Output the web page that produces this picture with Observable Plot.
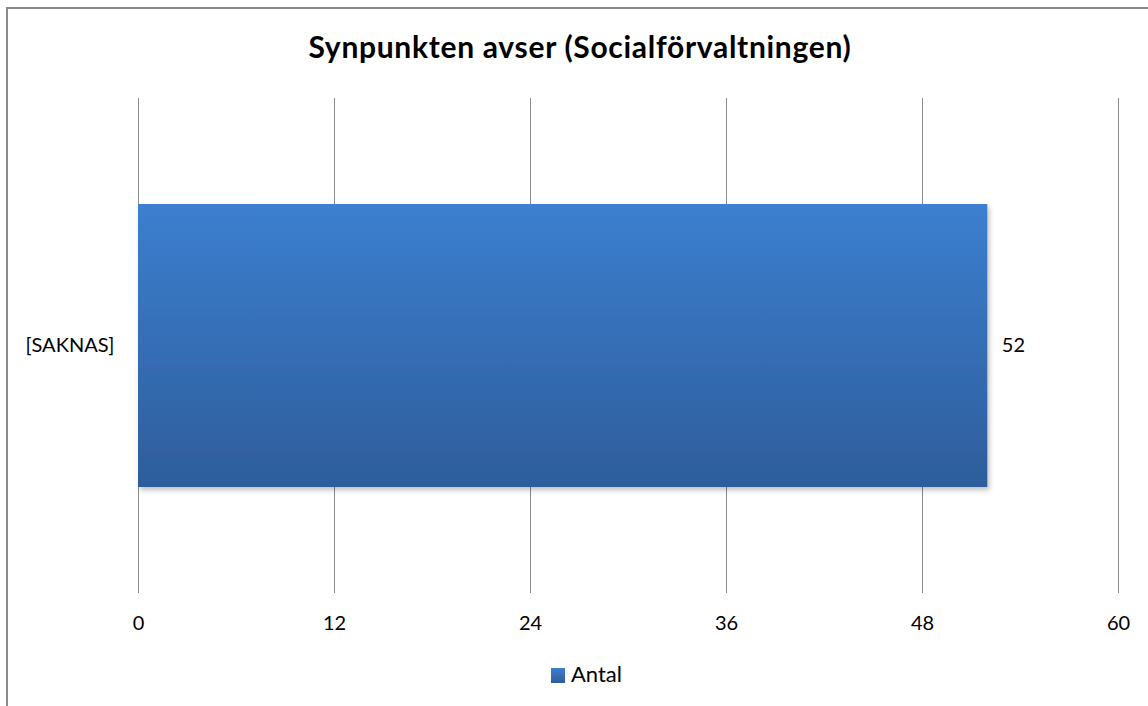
<!DOCTYPE html>
<html>
<head>
<meta charset="utf-8">
<script src="https://cdn.jsdelivr.net/npm/d3@7"></script>
<script src="https://cdn.jsdelivr.net/npm/@observablehq/plot@0.6"></script>
<style>
  html, body { margin: 0; padding: 0; background: #fff; }
  body { width: 1148px; height: 706px; overflow: hidden; position: relative; font-family: Lato, "Open Sans", sans-serif; }
  #frame { position: absolute; left: 6px; top: 7px; width: 1200px; height: 800px; border-left: 2px solid #8a8a8a; border-top: 2px solid #8a8a8a; }
  #title { position: absolute; left: 0; top: 31px; width: 1160px; text-align: center; font-size: 30px; line-height: 30px; letter-spacing: 0.7px; font-weight: bold; color: #000; }
  #chart { position: absolute; left: 0; top: 98px; }
  #legend-sw { position: absolute; left: 551px; top: 668px; width: 14px; height: 15px; background: linear-gradient(#3c7fd0, #2e5e9c); }
  #legend-tx { position: absolute; left: 571px; top: 663px; font-size: 22px; line-height: 22px; color: #000; }
</style>
</head>
<body>
<div id="frame"></div>
<div id="title"></div>
<div id="chart"></div>
<div id="legend-sw"></div>
<div id="legend-tx"></div>
<script>
const titleText = "Synpunkten avser (Socialförvaltningen)";
const categories = ["[SAKNAS]"];
const values = [52];
const xTicks = [0, 12, 24, 36, 48, 60];
const seriesName = "Antal";

const data = categories.map((c, i) => ({ category: c, value: values[i] }));

document.getElementById("title").textContent = titleText;
document.getElementById("legend-tx").textContent = seriesName;

const plot = Plot.plot({
  width: 1148,
  height: 540,
  marginLeft: 138,
  marginRight: 30,
  marginTop: 0,
  marginBottom: 45,
  style: { fontFamily: "Lato, 'Open Sans', sans-serif", fontSize: "20px", color: "#000", background: "transparent" },
  x: { domain: [0, 60], ticks: xTicks, label: null },
  y: { domain: categories, padding: 0.272, label: null },
  marks: [
    Plot.gridX(xTicks, { stroke: "#8c8c8c", strokeOpacity: 1, strokeWidth: 1 }),
    Plot.barX(data, { x: "value", y: "category", fill: "url(#barGrad)" }),
    Plot.text(data, { x: "value", y: "category", text: d => String(d.value), textAnchor: "start", dx: 14, fontSize: 20, fill: "#000" }),
    Plot.axisX(xTicks, { tickSize: 0, tickPadding: 22, fontSize: 20, fill: "#000" }),
    Plot.axisY({ tickSize: 0, tickPadding: 24, fontSize: 20, fill: "#000" })
  ]
});

const svg = d3.select(plot);
const defs = svg.insert("defs", ":first-child");
const grad = defs.append("linearGradient").attr("id", "barGrad").attr("x1", 0).attr("y1", 0).attr("x2", 0).attr("y2", 1);
grad.append("stop").attr("offset", "0%").attr("stop-color", "#3c7fd0");
grad.append("stop").attr("offset", "100%").attr("stop-color", "#2e5d9b");
const filt = defs.append("filter").attr("id", "shadow").attr("x", "-5%").attr("y", "-5%").attr("width", "110%").attr("height", "115%");
filt.append("feDropShadow").attr("dx", 2).attr("dy", 3).attr("stdDeviation", 2.5).attr("flood-color", "#000").attr("flood-opacity", 0.25);
svg.selectAll("rect").filter(function() { return d3.select(this).attr("fill") === "url(#barGrad)" || (this.parentNode && d3.select(this.parentNode).attr("fill") === "url(#barGrad)"); }).attr("filter", "url(#shadow)");

document.getElementById("chart").appendChild(plot);
</script>
</body>
</html>
